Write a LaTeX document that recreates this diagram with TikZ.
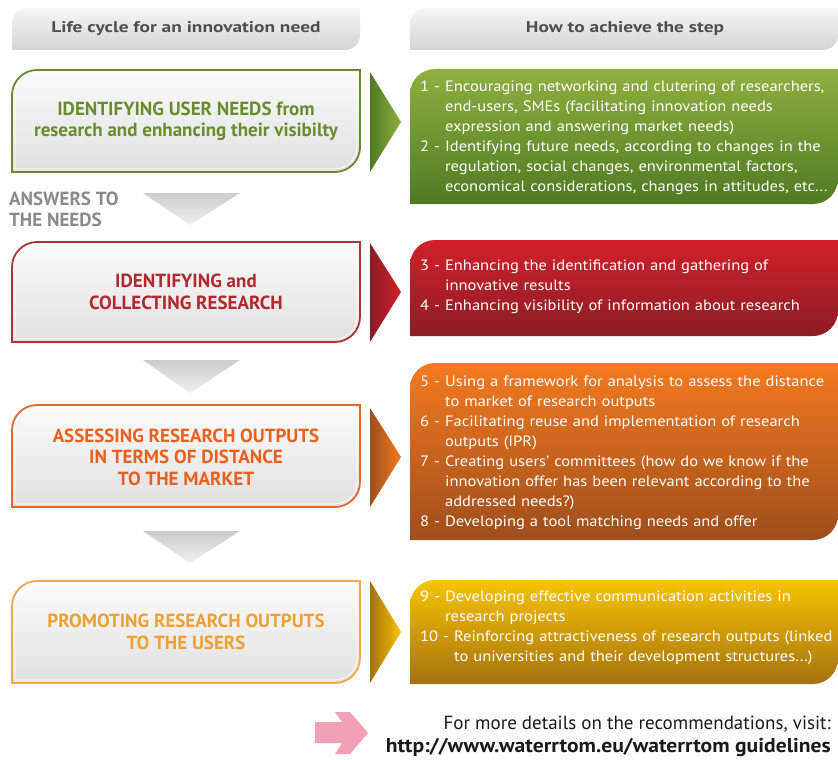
\documentclass[tikz,border=0pt]{standalone}
\usepackage{fontspec}
\setmainfont{PT Sans}
\newfontfamily\rfont[FakeStretch=1.1]{PT Sans}
\newfontfamily\hfont[FakeStretch=1.25]{PT Sans}
\newfontfamily\ufont[FakeStretch=1.08]{PT Sans}
\definecolor{hdrtop}{HTML}{F6F6F6}
\definecolor{hdrbot}{HTML}{D4D4D4}
\definecolor{hdrtxt}{HTML}{4F4F4F}
\definecolor{lbtop}{HTML}{FBFBFB}
\definecolor{lbbot}{HTML}{E0E0E0}
\definecolor{grnline}{HTML}{6B8A2E}
\definecolor{grntxt}{HTML}{6A8C2A}
\definecolor{grntop}{HTML}{8FB040}
\definecolor{grnbot}{HTML}{4E7A22}
\definecolor{redline}{HTML}{A8353A}
\definecolor{redtxt}{HTML}{B5272D}
\definecolor{redtop}{HTML}{D3202A}
\definecolor{redbot}{HTML}{8A1D26}
\definecolor{orgline}{HTML}{E36A2A}
\definecolor{orgtxt}{HTML}{E8601C}
\definecolor{orgtop}{HTML}{F47A20}
\definecolor{orgbot}{HTML}{9E4E1C}
\definecolor{yelline}{HTML}{F0A848}
\definecolor{yeltxt}{HTML}{F0A030}
\definecolor{yeltop}{HTML}{F8C400}
\definecolor{yelbot}{HTML}{A4720F}
\definecolor{answtxt}{HTML}{8A8A8A}
\definecolor{pinkarr}{HTML}{F2A0B8}
\definecolor{darktxt}{HTML}{1A1A1A}
% leaf shape: rounded top-left and bottom-right corners
% #1 style, #2 x1, #3 y1, #4 x2, #5 y2, #6 radius
\newcommand\leafshape[6]{%
  \path[#1] (#2,#5) -- (#2,{#3+#6})
    .. controls (#2,{#3+0.45*#6}) and ({#2+0.45*#6},#3) .. ({#2+#6},#3)
    -- (#4,#3) -- (#4,{#5-#6})
    .. controls (#4,{#5-0.45*#6}) and ({#4-0.45*#6},#5) .. ({#4-#6},#5)
    -- cycle;}
\newcommand\stpitem[2]{\setbox0=\hbox{#1}\hangindent=\wd0 \hangafter=1 \noindent\box0 #2\par}
\tikzset{
  hdr/.style={top color=hdrtop, bottom color=hdrbot},
  hdrtext/.style={font=\hfont\fontsize{15.5}{18}\selectfont\bfseries, text=hdrtxt, inner sep=0pt},
  lbox/.style={line width=1.8pt, top color=lbtop, bottom color=lbbot},
  inline/.style={draw=white, line width=0.7pt},
  ltext/.style={font=\fontsize{19}{21.5}\selectfont\bfseries, align=center, inner sep=0pt},
  rtext/.style={font=\rfont\fontsize{15}{20}\selectfont, text=white, text width=425pt, align=left, inner sep=0pt, anchor=west},
  downarr/.style={top color=gray!40, bottom color=gray!12},
}
\begin{document}
\begin{tikzpicture}[x=1pt,y=-1pt]
\useasboundingbox (0,0) rectangle (838,760);
\fill[white] (0,0) rectangle (838,760);

% headers
\leafshape{hdr}{12}{8}{360}{50}{15}
\node[hdrtext] (h1) at (186,29) {Life cycle for an innovation need};
\leafshape{hdr}{410}{8}{838}{50}{15}
\node[hdrtext] (h2) at (625,29) {How to achieve the step};

% step 1
\leafshape{lbox, draw=grnline}{12}{70}{360}{172}{25}
\leafshape{inline}{15}{73}{357}{169}{22}
\node[ltext, text=grntxt] (l1) at (186,121) {IDENTIFYING USER NEEDS from\\research and enhancing their visibilty};
\path[left color=grnbot, right color=grntop] (370,72) -- (401,122) -- (370,172) -- cycle;
\leafshape{top color=grntop, bottom color=grnbot}{410}{69}{838}{204}{25}
\node[rtext] (r1) at (420,138) {%
\stpitem{1 - }{Encouraging networking and clutering of researchers,\newline end-users, SMEs (facilitating innovation needs\newline expression and answering market needs)}%
\stpitem{2 - }{Identifying future needs, according to changes in the\newline regulation, social changes, environmental factors,\newline economical considerations, changes in attitudes, etc...}};

% answers to the needs
\node[font=\fontsize{19}{21}\selectfont\bfseries, text=answtxt, align=left, anchor=north west, inner sep=0pt] (ans) at (9,192) {ANSWERS TO\\THE NEEDS};
\path[downarr] (143,193) -- (240,193) -- (190,225) -- cycle;

% step 2
\leafshape{lbox, draw=redline}{12}{242}{360}{342}{25}
\leafshape{inline}{15}{245}{357}{339}{22}
\node[ltext, text=redtxt] (l2) at (186,292) {IDENTIFYING and\\COLLECTING RESEARCH};
\path[left color=redbot, right color=redtop] (370,243) -- (401,292) -- (370,342) -- cycle;
\leafshape{top color=redtop, bottom color=redbot}{410}{240}{838}{336}{25}
\node[rtext] (r2) at (420,287) {%
\stpitem{3 - }{Enhancing the identification and gathering of\newline innovative results}%
\stpitem{4 - }{Enhancing visibility of information about research}};
\path[downarr] (143,360) -- (240,360) -- (190,393) -- cycle;

% step 3
\leafshape{lbox, draw=orgline}{12}{405}{360}{507}{25}
\leafshape{inline}{15}{408}{357}{504}{22}
\node[ltext, text=orgtxt] (l3) at (186,457) {ASSESSING RESEARCH OUTPUTS\\IN TERMS OF DISTANCE\\TO THE MARKET};
\path[left color=orgbot, right color=orgtop] (370,408) -- (401,457) -- (370,507) -- cycle;
\leafshape{top color=orgtop, bottom color=orgbot}{410}{363}{838}{540}{25}
\node[rtext] (r3) at (420,453) {%
\stpitem{5 - }{Using a framework for analysis to assess the distance\newline to market of research outputs}%
\stpitem{6 - }{Facilitating reuse and implementation of research\newline outputs (IPR)}%
\stpitem{7 - }{Creating users’ committees (how do we know if the\newline innovation offer has been relevant according to the\newline addressed needs?)}%
\stpitem{8 - }{Developing a tool matching needs and offer}};
\path[downarr] (143,531) -- (240,531) -- (190,563) -- cycle;

% step 4
\leafshape{lbox, draw=yelline}{12}{581}{360}{683}{25}
\leafshape{inline}{15}{584}{357}{680}{22}
\node[ltext, text=yeltxt] (l4) at (186,632) {PROMOTING RESEARCH OUTPUTS\\TO THE USERS};
\path[left color=yelbot, right color=yeltop] (370,581) -- (401,632) -- (370,683) -- cycle;
\leafshape{top color=yeltop, bottom color=yelbot}{410}{580}{838}{684}{25}
\node[rtext] (r4) at (420,628) {%
\stpitem{9 - }{Developing effective communication activities in\newline research projects}%
\stpitem{10 - }{Reinforcing attractiveness of research outputs (linked\newline to universities and their development structures...)}};

% footer
\fill[pinkarr] (315,722) -- (342,722) -- (335,712) -- (350,712) -- (368,733) -- (350,754) -- (335,754) -- (342,743) -- (315,743) -- cycle;
\node[font=\fontsize{19}{22}\selectfont, text=darktxt, anchor=base east, inner sep=0pt] (f1) at (831,729) {For more details on the recommendations, visit:};
\node[font=\ufont\fontsize{20}{22}\selectfont\bfseries, text=darktxt, anchor=base east, inner sep=0pt] (f2) at (831,752) {http://www.waterrtom.eu/waterrtom guidelines};
\end{tikzpicture}
\end{document}
